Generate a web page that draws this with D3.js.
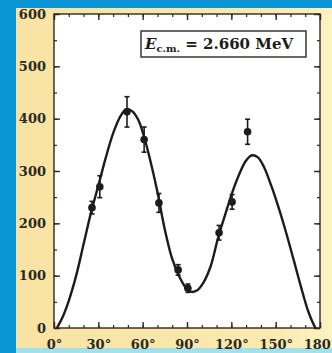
<!DOCTYPE html>
<html>
<head>
<meta charset="utf-8">
<script src="https://cdn.jsdelivr.net/npm/d3@7"></script>
<style>
  body { margin: 0; background: #0a95d6; }
  svg { display: block; }
</style>
</head>
<body>
<svg id="chart" width="332" height="353"></svg>
<script>
// fitted curve
const curveAngle = [2, 6, 10, 15, 20, 25, 30, 35, 40, 45, 49, 53, 57, 61, 65, 70, 75, 80, 85, 90, 93, 97, 101, 106, 111, 116, 121, 126, 130, 134, 138, 142, 147, 152, 157, 162, 167, 172, 176, 177];
const curveValue = [0, 22, 52, 100, 160, 220, 272, 325, 372, 405, 418, 414, 398, 365, 322, 260, 188, 132, 97, 74, 69, 72, 86, 118, 172, 218, 262, 298, 320, 330, 326, 308, 272, 230, 183, 132, 80, 32, 5, 0];

// measured points
const pointAngle = [25.7, 31, 49.4, 61, 71, 84, 90.6, 111.7, 120.5, 131];
const pointValue = [230, 270, 413, 360, 239, 111, 76, 182, 241, 375];
const pointError = [12, 21, 29, 24, 18, 10, 8, 14, 14, 24];

const xTicks = [0, 30, 60, 90, 120, 150, 180];
const yTicks = [0, 100, 200, 300, 400, 500, 600];

const svg = d3.select("#chart");

// background panels
const defs = svg.append("defs");
const grad = defs.append("linearGradient").attr("id", "panel");
grad.append("stop").attr("offset", "0%").attr("stop-color", "#f8e3a4");
grad.append("stop").attr("offset", "80%").attr("stop-color", "#fbe9b0");
grad.append("stop").attr("offset", "100%").attr("stop-color", "#fdf2c2");

svg.append("rect").attr("x", 0).attr("y", 0).attr("width", 332).attr("height", 353).attr("fill", "#0a95d6");
svg.append("rect").attr("x", 16).attr("y", 8).attr("width", 316).attr("height", 340).attr("fill", "url(#panel)");
svg.append("rect").attr("x", 16).attr("y", 348).attr("width", 316).attr("height", 5).attr("fill", "#a2e0ec");

const plotL = 54, plotR = 320, plotT = 14, plotB = 328;

const x = d3.scaleLinear().domain([0, 180]).range([plotL, plotR]);
const y = d3.scaleLinear().domain([0, 600]).range([plotB, plotT]);

svg.append("rect")
  .attr("x", plotL).attr("y", plotT)
  .attr("width", plotR - plotL).attr("height", plotB - plotT)
  .attr("fill", "#fff");

const ink = "#2b2a22";
const labelFont = "'DejaVu Serif', serif";

// minor ticks
const minor = (g) => g.call(s => s.select(".domain").remove())
  .call(s => s.selectAll("line").attr("stroke", ink).attr("stroke-width", 1.2));

svg.append("g").attr("transform", `translate(0,${plotB})`)
  .call(d3.axisBottom(x).tickValues(d3.range(0, 181, 10)).tickSize(-3).tickFormat(""))
  .call(minor);
svg.append("g").attr("transform", `translate(0,${plotT})`)
  .call(d3.axisTop(x).tickValues(d3.range(0, 181, 10)).tickSize(-3).tickFormat(""))
  .call(minor);
svg.append("g").attr("transform", `translate(${plotL},0)`)
  .call(d3.axisLeft(y).tickValues(d3.range(0, 601, 50)).tickSize(-3).tickFormat(""))
  .call(minor);
svg.append("g").attr("transform", `translate(${plotR},0)`)
  .call(d3.axisRight(y).tickValues(d3.range(0, 601, 50)).tickSize(-3).tickFormat(""))
  .call(minor);

// major ticks with labels
const major = (g) => g.call(s => s.select(".domain").remove())
  .call(s => s.selectAll("line").attr("stroke", ink).attr("stroke-width", 1.4))
  .call(s => s.selectAll("text")
    .attr("fill", ink)
    .style("font-family", labelFont)
    .style("font-weight", "bold")
    .style("font-size", "13px"));

svg.append("g").attr("transform", `translate(0,${plotB})`)
  .call(d3.axisBottom(x).tickValues(xTicks).tickSize(-6).tickPadding(12).tickFormat(d => d + "°"))
  .call(major);
svg.append("g").attr("transform", `translate(0,${plotT})`)
  .call(d3.axisTop(x).tickValues(xTicks).tickSize(-6).tickFormat(""))
  .call(major);
svg.append("g").attr("transform", `translate(${plotL},0)`)
  .call(d3.axisLeft(y).tickValues(yTicks).tickSize(-6).tickPadding(8))
  .call(major);
svg.append("g").attr("transform", `translate(${plotR},0)`)
  .call(d3.axisRight(y).tickValues(yTicks).tickSize(-6).tickFormat(""))
  .call(major);

// frame
svg.append("rect")
  .attr("x", plotL).attr("y", plotT)
  .attr("width", plotR - plotL).attr("height", plotB - plotT)
  .attr("fill", "none").attr("stroke", ink).attr("stroke-width", 1.4);

// curve
svg.append("path")
  .datum(curveAngle.map((a, i) => [a, curveValue[i]]))
  .attr("d", d3.line().x(d => x(d[0])).y(d => y(d[1])).curve(d3.curveCatmullRom))
  .attr("fill", "none")
  .attr("stroke", "#1c1c1c")
  .attr("stroke-width", 2.4);

// points with error bars
const pts = pointAngle.map((a, i) => ({a, v: pointValue[i], e: pointError[i]}));
const pg = svg.append("g").attr("stroke", "#1c1c1c").attr("stroke-width", 1.6);
pg.selectAll("line.bar").data(pts).join("line").attr("class", "bar")
  .attr("x1", d => x(d.a)).attr("x2", d => x(d.a))
  .attr("y1", d => y(d.v + d.e)).attr("y2", d => y(d.v - d.e));
pg.selectAll("line.capt").data(pts).join("line").attr("class", "capt")
  .attr("x1", d => x(d.a) - 2.5).attr("x2", d => x(d.a) + 2.5)
  .attr("y1", d => y(d.v + d.e)).attr("y2", d => y(d.v + d.e));
pg.selectAll("line.capb").data(pts).join("line").attr("class", "capb")
  .attr("x1", d => x(d.a) - 2.5).attr("x2", d => x(d.a) + 2.5)
  .attr("y1", d => y(d.v - d.e)).attr("y2", d => y(d.v - d.e));
svg.append("g").selectAll("circle").data(pts).join("circle")
  .attr("cx", d => x(d.a)).attr("cy", d => y(d.v))
  .attr("r", 3.8).attr("fill", "#1c1c1c");

// label box
svg.append("rect")
  .attr("x", 141).attr("y", 31).attr("width", 165).attr("height", 26)
  .attr("fill", "#fff").attr("stroke", ink).attr("stroke-width", 1.4);
const lab = svg.append("text")
  .attr("x", 145).attr("y", 49)
  .attr("fill", "#1c1c1c")
  .style("font-family", labelFont)
  .style("font-weight", "bold")
  .style("font-size", "15px");
lab.append("tspan").style("font-style", "italic").text("E");
lab.append("tspan").attr("dy", 3).style("font-size", "10px").text("c.m.");
lab.append("tspan").attr("dy", -3).text(" = 2.660 MeV");
</script>
</body>
</html>
